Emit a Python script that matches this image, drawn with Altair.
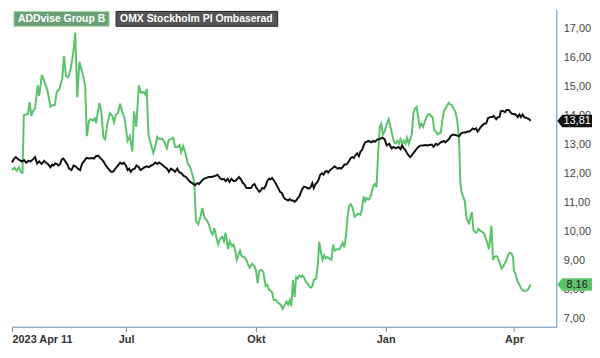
import datetime as dt
import pandas as pd
import altair as alt

START = dt.datetime(2023, 4, 11)

# ---- data (day offsets from 2023-04-11, values in SEK) ----
green_days = [0, 1.8, 3.4, 5.0, 6.4, 7.5, 8.4, 10.2, 11.4, 12.5, 13.7, 14.8, 16.4, 18.2, 19.3, 21.2, 22.8, 25.1,
              27.3, 28.5, 30.3, 31.9, 33.5, 34.6, 35.7, 36.9, 38.3, 39.8, 41.5, 43.2, 44.9, 46.3, 47.8, 49.7, 51.9,
              53.1, 54.7, 55.8, 57.4, 58.8, 59.6, 61.0, 62.0, 63.3, 64.9, 66.1, 67.8, 69.5, 71.1, 72.4, 73.6, 75.2,
              76.7, 78.1, 79.7, 80.8, 82.0, 83.6, 85.4, 86.6, 88.1, 90.0, 91.5, 93.4, 94.5, 95.6, 96.8, 98.4, 100.2,
              101.8, 103.0, 104.7, 106.4, 108.2, 109.8, 111.2, 112.7, 114.3, 115.7, 117.3, 118.9, 120.0, 121.4, 123.0,
              124.8, 126.4, 128.0, 129.3, 130.5, 132.1, 133.7, 135.1, 136.6, 138.2, 139.6, 141.2, 142.3, 143.5, 144.6,
              146.2, 147.6, 149.1, 150.3, 151.5, 153.2, 154.4, 156.0, 157.1, 158.3, 159.4, 160.6, 161.7, 162.8, 164.6,
              166.2, 167.4, 168.5, 170.3, 172.0, 173.1, 174.2, 175.4, 176.9, 178.3, 179.9, 181.0, 182.2, 183.3, 184.5,
              185.6, 187.2, 189.0, 190.6, 192.0, 193.6, 194.7, 195.9, 197.0, 198.1, 199.3, 200.4, 201.5, 202.7, 203.8,
              205.0, 206.1, 207.2, 208.4, 209.5, 210.6, 211.8, 213.0, 214.0, 215.7, 216.8, 217.9, 219.1, 220.2, 221.4,
              222.5, 223.6, 225.0, 226.6, 227.7, 228.9, 230.4, 232.3, 233.4, 234.5, 235.7, 236.9, 238.0, 239.1, 240.3,
              241.4, 243.0, 244.4, 245.5, 247.1, 248.2, 249.4, 250.5, 251.6, 252.8, 253.9, 255.0, 256.2, 257.4, 258.5,
              259.6, 260.8, 261.9, 263.0, 264.2, 265.8, 267.1, 268.7, 269.9, 271.0, 272.1, 273.3, 274.4, 275.5, 276.7,
              277.9, 279.0, 280.1, 281.3, 282.4, 283.5, 284.7, 285.8, 286.9, 288.1, 289.2, 290.4, 291.5, 292.6, 293.8,
              294.9, 296.0, 297.2, 298.4, 299.4, 300.6, 301.8, 302.9, 304.0, 305.2, 306.3, 307.4, 308.6, 309.7, 310.9,
              312.0, 313.1, 314.3, 315.4, 316.5, 317.0, 318.0, 318.8, 319.9, 321.1, 322.3, 323.4, 324.0, 325.2, 326.1,
              327.3, 328.4, 329.5, 330.7, 332.0, 333.6, 334.8, 335.9, 337.0, 338.2, 338.9, 340.0, 341.1, 342.1, 343.4,
              344.5, 346.2, 347.3, 348.4, 349.6, 350.7, 351.8, 353.0, 354.1, 355.3, 356.0, 357.1, 358.2, 359.8, 361.4,
              362.6, 364.4, 365.5, 366.7, 367.8]
green_vals = [12.11, 12.19, 12.09, 12.21, 12.03, 12.02, 14.01, 14.03, 14.05, 14.46, 13.98, 14.14, 14.24, 15.04, 14.67,
              15.40, 15.20, 14.88, 14.30, 14.35, 14.35, 14.83, 14.88, 15.10, 15.26, 16.06, 15.36, 15.31, 15.58, 16.06,
              16.86, 14.62, 15.85, 15.52, 15.04, 13.28, 13.82, 13.87, 13.82, 13.90, 13.73, 14.14, 14.43, 14.14, 13.23,
              13.17, 13.76, 14.08, 13.98, 13.76, 14.01, 14.08, 14.40, 14.14, 13.92, 13.55, 13.12, 13.28, 12.75, 14.14,
              13.60, 15.04, 14.78, 14.80, 14.72, 14.91, 13.34, 13.02, 12.70, 12.96, 13.26, 13.18, 13.20, 13.07, 12.86,
              13.15, 13.18, 13.23, 12.91, 12.91, 12.98, 12.73, 12.94, 12.69, 12.32, 12.21, 11.95, 11.68, 10.35, 10.24,
              10.51, 10.80, 10.45, 10.38, 10.24, 9.97, 9.89, 10.10, 9.86, 9.54, 9.74, 9.81, 9.65, 9.95, 9.38, 9.65,
              9.49, 9.54, 9.33, 9.01, 9.17, 9.33, 9.14, 9.11, 9.01, 8.85, 8.74, 8.88, 8.79, 8.63, 8.21, 8.63, 8.67,
              8.58, 8.10, 8.15, 7.99, 7.94, 7.89, 7.62, 7.62, 7.51, 7.46, 7.32, 7.46, 7.57, 7.46, 7.62, 7.41, 8.31,
              7.73, 8.42, 8.37, 8.47, 8.42, 8.47, 8.39, 8.26, 8.21, 8.10, 8.05, 8.10, 8.31, 8.37, 8.79, 9.63, 9.27,
              9.01, 9.17, 9.06, 9.11, 9.06, 9.01, 9.54, 9.33, 9.38, 9.38, 9.49, 9.60, 9.44, 9.86, 10.50, 10.88, 10.93,
              10.83, 10.50, 10.56, 10.61, 10.56, 10.77, 11.20, 11.04, 11.15, 11.09, 11.15, 11.31, 11.57, 11.63, 11.52,
              12.64, 13.60, 13.71, 13.34, 13.44, 13.71, 13.87, 13.55, 13.28, 13.07, 13.02, 13.12, 13.02, 13.18, 13.02,
              13.12, 13.02, 13.23, 13.02, 13.18, 13.34, 14.08, 14.24, 14.30, 13.92, 13.60, 13.71, 13.60, 13.76, 13.92,
              14.03, 14.05, 13.98, 13.92, 13.50, 13.44, 13.34, 13.39, 13.39, 13.82, 14.14, 14.24, 14.35, 14.43, 14.37,
              14.35, 14.24, 14.14, 13.92, 13.50, 13.18, 11.64, 11.36, 11.20, 11.04, 10.45, 10.35, 10.24, 10.50, 10.66,
              10.02, 9.97, 9.95, 10.08, 10.02, 9.97, 9.92, 9.76, 9.60, 9.38, 9.65, 10.19, 9.01, 9.11, 9.14, 9.10,
              8.85, 8.71, 8.79, 8.90, 9.01, 9.17, 9.26, 9.24, 9.11, 8.63, 8.53, 8.31, 8.15, 7.99, 7.94, 7.94, 7.96,
              8.05, 8.16]

black_days = [0, 1.2, 2.7, 4.6, 6.8, 8.7, 10.2, 11.8, 13.2, 14.8, 16.4, 17.8, 19.3, 21.0, 22.8, 23.9, 25.5, 27.3,
              28.5, 29.6, 30.7, 31.9, 33.0, 34.2, 35.3, 36.4, 37.6, 39.1, 40.5, 42.2, 43.7, 45.1, 46.7, 48.3, 49.7,
              51.2, 52.8, 54.7, 56.5, 58.1, 59.6, 61.0, 62.6, 63.7, 64.9, 66.5, 68.3, 70.2, 71.7, 73.3, 75.2, 76.7,
              78.1, 79.3, 80.8, 82.0, 83.1, 84.2, 85.4, 87.0, 88.3, 90.0, 91.1, 92.7, 94.1, 95.6, 97.2, 98.6, 100.2,
              101.8, 103.0, 104.3, 105.9, 107.1, 108.6, 110.0, 111.2, 112.7, 114.3, 115.7, 117.3, 118.4, 120.2, 121.8,
              123.5, 124.8, 126.4, 128.1, 129.8, 131.4, 132.7, 134.4, 136.0, 137.8, 139.6, 141.2, 142.8, 144.6, 145.7,
              147.4, 148.7, 150.3, 151.5, 153.0, 154.2, 155.6, 157.1, 158.3, 159.9, 161.0, 162.4, 163.5, 165.1, 166.2,
              167.9, 169.6, 170.8, 172.0, 173.1, 174.2, 175.4, 176.5, 177.6, 178.8, 179.9, 181.0, 182.2, 183.3, 184.5,
              185.6, 186.7, 187.9, 189.0, 190.1, 191.3, 192.5, 193.6, 194.7, 195.9, 197.0, 198.1, 199.3, 200.4, 201.5,
              202.7, 203.8, 205.0, 206.1, 207.2, 208.4, 209.5, 210.6, 211.8, 213.0, 214.0, 215.2, 216.4, 217.5, 218.6,
              219.8, 220.9, 222.0, 223.2, 224.3, 225.5, 226.6, 227.7, 228.9, 230.0, 231.1, 232.3, 233.4, 234.5, 235.7,
              236.9, 238.0, 239.1, 240.3, 241.4, 242.5, 243.7, 244.8, 246.0, 247.1, 248.2, 249.4, 250.5, 251.6, 252.8,
              253.9, 255.0, 256.2, 257.4, 258.5, 259.6, 260.8, 262.6, 264.2, 265.8, 267.6, 269.2, 270.6, 272.1, 274.0,
              275.5, 276.7, 277.9, 279.0, 280.1, 281.3, 282.4, 283.5, 284.7, 286.3, 288.1, 289.9, 291.5, 293.1, 294.9,
              296.0, 297.7, 299.0, 300.6, 301.8, 302.9, 304.0, 305.2, 306.3, 307.4, 308.6, 310.2, 311.3, 312.7, 314.3,
              316.0, 317.0, 318.4, 320.0, 321.6, 323.4, 324.5, 325.7, 326.8, 327.9, 329.1, 330.2, 331.4, 332.5, 333.6,
              334.8, 335.9, 336.6, 337.5, 338.9, 340.4, 341.6, 342.8, 343.4, 344.5, 345.7, 346.6, 347.9, 349.6, 350.7,
              352.3, 353.4, 354.8, 356.4, 357.5, 358.7, 359.8, 360.9, 362.1, 363.3, 364.4, 365.5, 366.7, 367.8]
black_vals = [12.37, 12.48, 12.56, 12.48, 12.41, 12.45, 12.37, 12.43, 12.41, 12.48, 12.56, 12.34, 12.41, 12.32, 12.43,
              12.37, 12.32, 12.21, 12.30, 12.27, 12.34, 12.32, 12.27, 12.32, 12.48, 12.51, 12.43, 12.32, 12.16, 12.11,
              12.27, 12.24, 12.16, 12.11, 12.32, 12.43, 12.53, 12.51, 12.53, 12.51, 12.59, 12.61, 12.53, 12.48, 12.41,
              12.27, 12.16, 12.05, 12.05, 12.16, 12.27, 12.37, 12.32, 12.37, 12.27, 12.11, 12.16, 12.05, 12.13, 12.16,
              12.27, 12.21, 12.11, 12.16, 12.21, 12.24, 12.21, 12.27, 12.30, 12.37, 12.32, 12.37, 12.32, 12.27, 12.21,
              12.16, 12.05, 12.16, 12.11, 12.05, 12.16, 12.05, 12.00, 11.91, 11.87, 11.79, 11.70, 11.65, 11.59, 11.66,
              11.63, 11.73, 11.81, 11.84, 11.87, 11.87, 11.89, 11.92, 11.95, 11.84, 11.79, 11.81, 11.73, 11.81, 11.70,
              11.81, 11.73, 11.73, 11.81, 11.87, 11.79, 11.68, 11.60, 11.49, 11.49, 11.49, 11.60, 11.63, 11.52, 11.44,
              11.36, 11.41, 11.49, 11.47, 11.57, 11.73, 11.81, 11.79, 11.84, 11.76, 11.68, 11.57, 11.47, 11.36, 11.32,
              11.20, 11.11, 11.09, 11.06, 11.11, 11.06, 11.06, 11.02, 11.06, 11.15, 11.20, 11.36, 11.47, 11.54, 11.52,
              11.49, 11.47, 11.52, 11.66, 11.49, 11.63, 11.68, 11.79, 11.95, 12.00, 11.95, 12.05, 12.08, 12.02, 12.11,
              12.15, 12.19, 12.24, 12.19, 12.16, 12.19, 12.16, 12.21, 12.30, 12.30, 12.34, 12.43, 12.53, 12.56, 12.53,
              12.64, 12.69, 12.59, 12.75, 12.80, 12.96, 13.07, 13.09, 13.12, 13.09, 13.07, 13.12, 13.09, 13.14, 13.18,
              13.18, 13.23, 13.18, 12.96, 13.02, 12.86, 12.91, 12.86, 12.91, 12.83, 12.96, 12.86, 12.80, 12.70, 12.62,
              12.56, 12.62, 12.70, 12.80, 12.91, 12.96, 12.96, 12.98, 12.96, 12.98, 12.99, 12.91, 13.02, 12.98, 13.02,
              13.07, 13.09, 13.12, 13.07, 13.12, 13.20, 13.30, 13.34, 13.32, 13.30, 13.28, 13.37, 13.41, 13.41, 13.44,
              13.44, 13.50, 13.55, 13.52, 13.55, 13.44, 13.52, 13.60, 13.66, 13.71, 13.71, 13.76, 13.90, 13.94, 13.94,
              13.98, 13.90, 13.87, 13.94, 13.94, 14.14, 14.16, 14.11, 14.19, 14.19, 14.11, 14.05, 14.05, 14.01, 13.94,
              14.03, 13.94, 14.03, 13.94, 13.92, 13.90, 13.87, 13.81]

series_names = ["ADDvise Group B", "OMX Stockholm PI Ombaserad"]
series_colors = ["#5bc46b", "#111111"]
tag_text_colors = ["#1a1a1a", "#ffffff"]
y_ticks = [7, 8, 9, 10, 11, 12, 13, 14, 15, 16, 17]
x_ticks = ["2023-04-11", "2023-07-01", "2023-10-01", "2024-01-01", "2024-04-01"]


def to_iso(days):
    return [(START + dt.timedelta(days=d)).strftime("%Y-%m-%dT%H:%M:%S") for d in days]


df = pd.concat([
    pd.DataFrame({"date": to_iso(green_days), "value": green_vals, "series": series_names[0]}),
    pd.DataFrame({"date": to_iso(black_days), "value": black_vals, "series": series_names[1]}),
])
last = df.groupby("series", sort=False).tail(1).copy()
last["label"] = last["value"].map(lambda v: f"{v:.2f}".replace(".", ","))
last["fill"] = series_colors
last["tcolor"] = tag_text_colors

W, H = 549, 320
AXIS_COLOR = "#5b8fb9"
FONT = "Liberation Sans"

x_enc = alt.X(
    "date:T",
    scale=alt.Scale(domain=["2023-04-11T00:00:00", "2024-05-01T00:00:00"]),
    axis=alt.Axis(
        values=[alt.DateTime(year=int(s[:4]), month=int(s[5:7]), date=int(s[8:])) for s in x_ticks],
        labelExpr="month(datum.value)==3 && date(datum.value)==11 && year(datum.value)==2023 ? '2023 Apr 11' : "
                  "['Jan','Feb','Mar','Apr','Maj','Jun','Jul','Aug','Sep','Okt','Nov','Dec'][month(datum.value)]",
        title=None, grid=False, labelFlush=True, labelFont=FONT, labelFontSize=11, labelFontWeight="bold",
        labelColor="#333333", domainColor=AXIS_COLOR, tickColor=AXIS_COLOR, tickSize=5, labelPadding=2,
        labelOverlap=False, zindex=0,
    ),
)
y_enc = alt.Y(
    "value:Q",
    scale=alt.Scale(domain=[6.7, 17.66], nice=False, zero=False),
    axis=alt.Axis(
        orient="right", values=y_ticks, title=None, grid=False, ticks=False,
        labelExpr="replace(format(datum.value, '.2f'), '.', ',')",
        labelFont=FONT, labelFontSize=11, labelColor="#444444", labelPadding=7,
        domainColor=AXIS_COLOR, zindex=0,
    ),
)

lines = alt.Chart(df).mark_line(strokeWidth=2, interpolate="linear").encode(
    x=x_enc, y=y_enc,
    color=alt.Color("series:N", scale=alt.Scale(domain=series_names, range=series_colors), legend=None),
    order=alt.Order("date:T"),
)

tag_shape = "M -1 0 L -0.72 -0.36 L 1 -0.36 L 1 0.36 L -0.72 0.36 Z"
tags = alt.Chart(last).mark_point(shape=tag_shape, filled=True, size=1225, opacity=1, strokeWidth=0).encode(
    x=alt.value(W + 18.5), y=y_enc,
    fill=alt.Fill("fill:N", scale=None),
)
tag_text = alt.Chart(last).mark_text(font=FONT, fontSize=11, align="center", baseline="middle", dy=0.5).encode(
    x=alt.value(W + 21), y=y_enc, text="label:N",
    fill=alt.Fill("tcolor:N", scale=None),
)

one = pd.DataFrame({"k": [0]})
leg_green_box = alt.Chart(one).mark_rect(fill="#6a9f78", stroke="#a3dcaa", strokeWidth=1).encode(
    x=alt.value(2), x2=alt.value(98), y=alt.value(2), y2=alt.value(17))
leg_green_txt = alt.Chart(one).mark_text(font=FONT, fontSize=10.5, fontWeight="bold", color="white",
                                         align="left", baseline="middle").encode(
    x=alt.value(6), y=alt.value(10), text=alt.value(series_names[0]))
leg_black_box = alt.Chart(one).mark_rect(fill="#555555", stroke="#222222", strokeWidth=1).encode(
    x=alt.value(105), x2=alt.value(268), y=alt.value(2), y2=alt.value(17))
leg_black_txt = alt.Chart(one).mark_text(font=FONT, fontSize=10.5, fontWeight="bold", color="white",
                                         align="left", baseline="middle").encode(
    x=alt.value(109), y=alt.value(10), text=alt.value(series_names[1]))

chart = alt.layer(
    lines, tags, tag_text, leg_green_box, leg_green_txt, leg_black_box, leg_black_txt
).properties(
    width=W, height=H, padding=0, background="white"
).configure_view(stroke=None)

chart.save("out.html", embed_options={"renderer": "svg", "actions": False})
